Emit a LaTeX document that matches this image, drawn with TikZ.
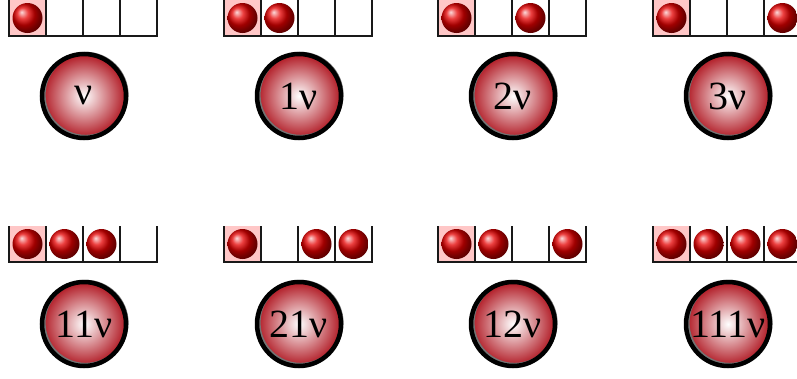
\documentclass[tikz,border=0pt]{standalone}
\usepackage{fontspec}
\setmainfont{Liberation Serif}
\definecolor{discred}{RGB}{178,30,40}
\begin{document}
\begin{tikzpicture}[x=1pt,y=-1pt,
  firstcell/.style={fill=red!22!white},
  ballstyle/.style={shading=ball, ball color=red!90!black},
  wallline/.style={line width=1.8pt, draw=black!90},
  disc/.style={circle, minimum size=82pt, inner sep=0pt, inner color=white, outer color=discred, font=\fontsize{40}{40}\selectfont},
  ringshadow/.style={draw=black!55, line width=3pt},
  ringline/.style={draw=black, line width=4.5pt}
]
\useasboundingbox (0,0) rectangle (797,378);
\foreach \cx/\by/\cy/\pa/\pb/\pc/\pd/\lab/\nm in {
  9/36/96/1/0/0/0/{ν}/a,
  224/36/96/1/1/0/0/{1ν}/b,
  438/36/96/1/0/1/0/{2ν}/c,
  653/36/96/1/0/0/1/{3ν}/d,
  9/262/324/1/1/1/0/{11ν}/e,
  224/262/324/1/0/1/1/{21ν}/f,
  438/262/324/1/1/0/1/{12ν}/g,
  653/262/324/1/1/1/1/{111ν}/h}{
  \fill[firstcell] (\cx,\by-36) rectangle (\cx+37,\by);
  \foreach \k/\v in {0/\pa,1/\pb,2/\pc,3/\pd}{
    \ifnum\v=1
      \shade[ballstyle] (\cx+18.5+37*\k,\by-18) circle (15);
    \fi
  }
  \draw[wallline] (\cx,\by-36) -- (\cx,\by) -- (\cx+148,\by) -- (\cx+148,\by-36);
  \foreach \k in {1,2,3}{
    \draw[wallline] (\cx+37*\k,\by-36) -- (\cx+37*\k,\by);
  }
  \coordinate (c\nm) at (\cx+75,\cy);
  \node[disc] (n\nm) at (c\nm) {\lab};
  \draw[ringshadow] ([shift={(1.6,-1.2)}]c\nm) circle (41.5);
  \draw[ringline] (n\nm.center) circle (42);
}
\end{tikzpicture}
\end{document}
